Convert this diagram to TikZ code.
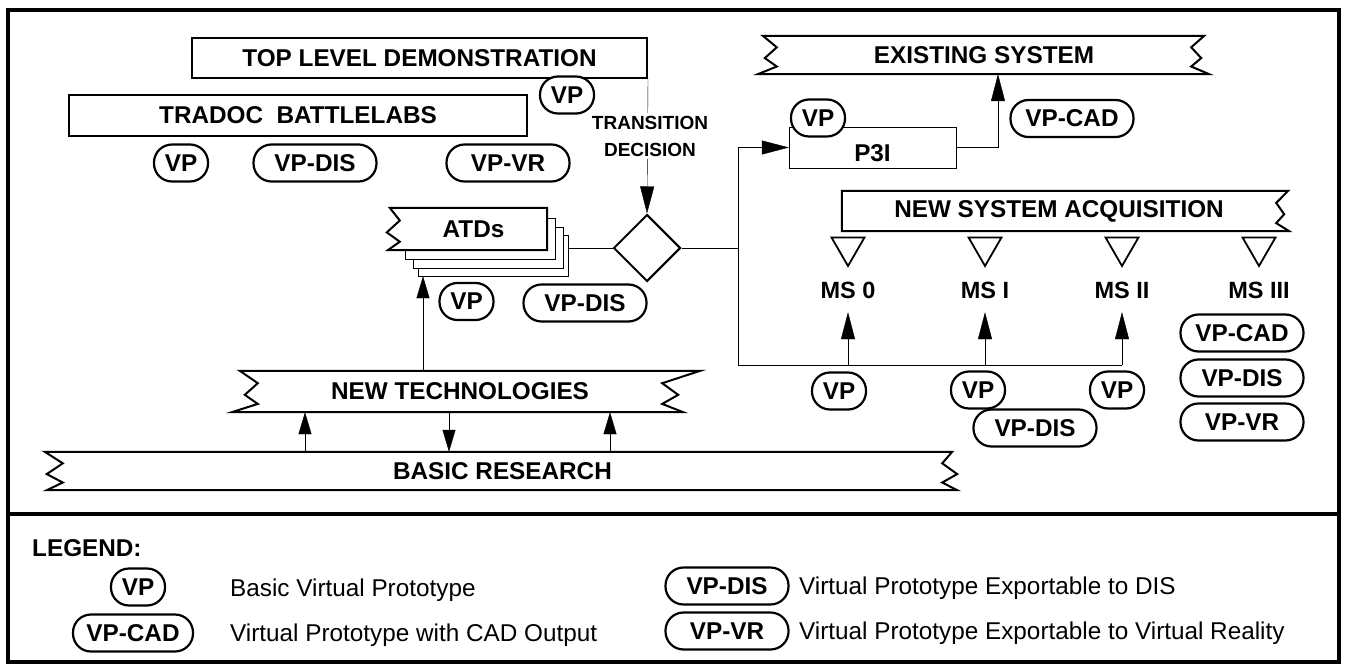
\documentclass[tikz,border=0pt]{standalone}
\usepackage{fontspec}
\setmainfont{Liberation Sans}
\usetikzlibrary{positioning,calc,arrows.meta,shapes.geometric,backgrounds}

% ribbon outline round a node: #2-#4 left outsets (top, middle, bottom),
% #5-#7 right outsets; all zero gives a straight side
\newcommand{\zigband}[7]{%
  \begin{pgfonlayer}{background}
  \draw[band] ($(#1.north west)+(-#2,0)$) -- ($(#1.north east)+(#5,0)$)
    -- ($(#1.north east)!0.3!(#1.south east)$)
    -- ($(#1.north east)!0.58!(#1.south east)+(#6,0)$)
    -- ($(#1.north east)!0.8!(#1.south east)$)
    -- ($(#1.south east)+(#7,0)$) -- ($(#1.south west)+(-#4,0)$)
    -- ($(#1.north west)!0.8!(#1.south west)$)
    -- ($(#1.north west)!0.58!(#1.south west)+(-#3,0)$)
    -- ($(#1.north west)!0.3!(#1.south west)$) -- cycle;
  \end{pgfonlayer}}

\begin{document}
\begin{tikzpicture}[x=1pt,y=-1pt,line width=2pt,
    lbl/.style={font=\fontsize{24.3}{28}\selectfont\bfseries,inner sep=0pt},
    box/.style={lbl,draw,fill=white},
    band/.style={fill=white,line width=2pt},
    proto/.style={lbl,draw,fill=white,line width=2.2pt,rounded corners=18pt,
      minimum height=37,minimum width=54},
    protowide/.style={proto,minimum width=123},
    desc/.style={font=\fontsize{24.3}{28}\selectfont,inner sep=0pt,anchor=base west},
    mstri/.style={draw,regular polygon,regular polygon sides=3,
      shape border rotate=180,minimum size=38,inner sep=0pt,line width=1.8pt},
    mslbl/.style={font=\fontsize{23.5}{26}\selectfont\bfseries,inner sep=0pt,
      minimum height=44},
    arr/.style={-{Triangle[length=27pt,width=14pt]}},
    arrs/.style={-{Triangle[length=22pt,width=13pt]}},
    frame/.style={line width=3.4pt}]
  \useasboundingbox (0,0) rectangle (1346,666);
  \draw[frame] (8,10) rectangle (1339,662);
  \draw[frame] (8,514) -- (1339,514);

  % demonstration and battlelabs
  \node[box,minimum width=455,minimum height=40] (toplevel) at (419.5,58) {TOP LEVEL DEMONSTRATION};
  \node[box,minimum width=458,minimum height=41] (tradoc) at (298,115.5) {TRADOC\ \ BATTLELABS};
  \node[proto] (vptop) at (567,95) {VP};
  \node[proto] (vplab) at (181,163) {VP};
  \node[protowide] (dislab) at (315,163) {VP-DIS};
  \node[protowide] (vrlab) at (508,163) {VP-VR};

  % ATDs stack
  \begin{pgfonlayer}{background}
    \node[box,minimum width=150,minimum height=41] (atdsC) at (493,255.5) {};
    \node[box,minimum width=150,minimum height=41] (atdsB) at (488,247.5) {};
    \node[box,minimum width=150,minimum height=41] (atdsA) at (480,238.5) {};
  \end{pgfonlayer}
  \node[lbl,minimum width=147,minimum height=42] (atds) at (473.5,229) {ATDs};
  \zigband{atds}{10}{13}{12}{0}{0}{0}
  \node[proto] (vpatd) at (466.5,301.5) {VP};
  \node[protowide] (disatd) at (585,303) {VP-DIS};

  \node[draw,diamond,minimum size=67,inner sep=0pt,fill=white,line width=2pt] (decide) at (647,248) {};

  % technologies and research
  \node[lbl,minimum width=404,minimum height=41] (newtech) at (460,391.5) {NEW TECHNOLOGIES};
  \zigband{newtech}{18}{13}{26}{38}{16}{21}
  \node[lbl,minimum width=879,minimum height=38] (basic) at (502.5,471) {BASIC RESEARCH};
  \zigband{basic}{18}{16}{16}{10}{15}{15}

  % existing system and P3I
  \node[lbl,minimum width=414,minimum height=38] (existing) at (984,55) {EXISTING SYSTEM};
  \zigband{existing}{14}{12}{19}{13}{10}{18}
  \node[box,minimum width=167,minimum height=41,text height=27pt,text depth=0pt] (p3i) at (872.5,147.5) {P3I};
  \node[proto] (vpp3i) at (818,118) {VP};
  \node[protowide] (cadex) at (1072,118.5) {VP-CAD};

  % new system acquisition and milestones
  \node[lbl,minimum width=434,minimum height=40] (newsys) at (1059,211) {NEW SYSTEM ACQUISITION};
  \zigband{newsys}{0}{0}{0}{12}{8}{13}
  \foreach \i/\x/\t in {0/848/MS 0,1/985/MS I,2/1122/MS II,3/1259/MS III} {
    \node[mstri] (t\i) at (\x,247) {};
    \node[mslbl,below=0pt of t\i] (ms\i) {\t};
  }
  \node[proto] (vpms0) at (839,391) {VP};
  \node[proto] (vpms1) at (978,390) {VP};
  \node[proto] (vpms2) at (1117,390) {VP};
  \node[protowide] (disms1) at (1035,428) {VP-DIS};
  \node[protowide] (cadms3) at (1242,333) {VP-CAD};
  \node[protowide] (disms3) at (1242,378) {VP-DIS};
  \node[protowide] (vrms3) at (1242,422) {VP-VR};

  % connectors
  \coordinate (branch) at (738,248);
  \coordinate (busL) at (738,365);
  \coordinate (riser) at (998,0);
  \coordinate (feed) at (423,0);
  \coordinate (bx1) at (305,0);
  \coordinate (bx2) at (449,0);
  \coordinate (bx3) at (610,0);

  \draw[arr] (toplevel.south east) -- (decide.north);
  \node[font=\fontsize{19}{27}\selectfont\bfseries,align=center,fill=white,inner sep=3pt]
    (trans) at (650,136) {TRANSITION\\DECISION};
  \draw (atdsC.east |- decide.west) -- (decide.west);
  \draw (decide.east) -- (branch);
  \draw[arr] (branch |- p3i.west) -- (p3i.west);
  \draw (branch |- p3i.west) -- (busL) -- (busL -| ms2.south);
  \foreach \m in {ms0,ms1,ms2}
    \draw[arr] (busL -| \m.south) -- (\m.south);
  \draw[arr] (p3i.east) -| (riser |- existing.south);
  \draw[arrs] (newtech.north -| feed) -- (feed |- atdsC.south);
  \draw[arrs] (basic.north -| bx1) -- (bx1 |- newtech.south);
  \draw[arrs] (newtech.south -| bx2) -- (bx2 |- basic.north);
  \draw[arrs] (basic.north -| bx3) -- (bx3 |- newtech.south);

  % legend
  \node[lbl,anchor=west] (legend) at (32,548) {LEGEND:};
  \node[proto] (keyvp) at (138,587) {VP};
  \node[desc] (keyvptxt) at (230,596) {Basic Virtual Prototype};
  \node[protowide,minimum width=120] (keycad) at (133,633) {VP-CAD};
  \node[desc] (keycadtxt) at (230,641) {Virtual Prototype with CAD Output};
  \node[protowide] (keydis) at (727,586) {VP-DIS};
  \node[desc] (keydistxt) at (799,594) {Virtual Prototype Exportable to DIS};
  \node[protowide] (keyvr) at (727,631) {VP-VR};
  \node[desc] (keyvrtxt) at (799,639) {Virtual Prototype Exportable to Virtual Reality};
\end{tikzpicture}
\end{document}
